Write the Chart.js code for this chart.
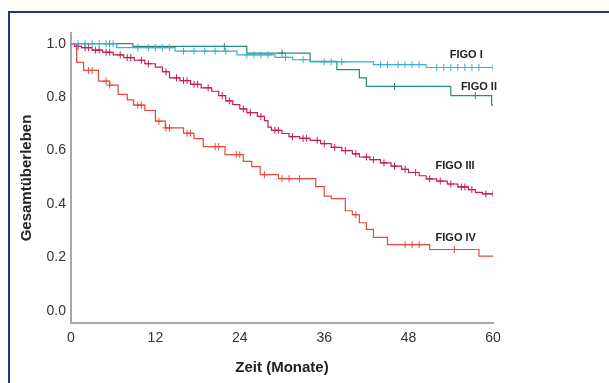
<!DOCTYPE html>
<html>
<head>
<meta charset="utf-8">
<script src="https://cdn.jsdelivr.net/npm/chart.js@4.4.0/dist/chart.umd.min.js"></script>
<style>
    html, body { margin: 0; padding: 0; background: #fff; }
    #wrap { position: relative; width: 609px; height: 383px; overflow: hidden; }
    #frame { position: absolute; left: 8px; top: 11px; width: 620px; height: 400px;
             border-top: 2px solid #24357a; border-left: 2px solid #24357a; }
</style>
</head>
<body>
<div id="wrap">
    <canvas id="kmChart" width="609" height="383"></canvas>
    <div id="frame"></div>
</div>
<script>
// Kaplan-Meier steps per stage: time of each step (months) and survival after it
const figo1Times = [0, 6.5, 14.8, 23.6, 29, 31.5, 34, 43, 50.5];
const figo1Surv = [1.0, 0.985, 0.972, 0.958, 0.949, 0.94, 0.932, 0.922, 0.911];
const figo1Censor = [1, 2, 3, 4, 5, 6, 9.5, 11, 12, 13, 14, 16, 17.5, 19, 20.5, 22, 25, 26, 27, 28,
    30.5, 33, 36, 37, 38.5, 44, 45, 46.5, 47.5, 48.5, 49.5, 52, 53, 54, 55, 56, 57, 58, 60];

const figo2Times = [0, 8.8, 25, 34, 37.8, 41, 42, 54, 59.8];
const figo2Surv = [1.0, 0.99, 0.965, 0.934, 0.903, 0.872, 0.84, 0.806, 0.77];
const figo2Censor = [5.5, 21.8, 30, 46, 57.5];

const figo3Times = [0, 0.5, 1.5, 3, 4.5, 6, 7.5, 9, 10.5, 12, 13, 14, 15.5, 17, 18.5, 20, 21, 22, 23, 24,
    25, 26.5, 27.5, 28, 28.5, 30, 31, 32.5, 34, 35.5, 37, 38.5, 40, 41, 42.5, 44, 45.5, 47, 48, 49.5,
    50.5, 52, 53.5, 55, 56.5, 57.5, 58.5];
const figo3Surv = [1.0, 0.99, 0.985, 0.976, 0.968, 0.958, 0.948, 0.938, 0.925, 0.912, 0.895, 0.872, 0.862,
    0.848, 0.835, 0.822, 0.806, 0.786, 0.772, 0.756, 0.742, 0.728, 0.712, 0.688, 0.676, 0.664, 0.652,
    0.646, 0.638, 0.626, 0.612, 0.6, 0.588, 0.576, 0.566, 0.554, 0.542, 0.53, 0.518, 0.506, 0.494,
    0.486, 0.475, 0.464, 0.454, 0.444, 0.438];
const figo3Censor = [1, 2, 2.5, 3.5, 4, 5, 5.5, 7, 8, 8.5, 10, 11, 13.5, 15, 16, 16.5, 17.5, 18, 19.5,
    21.5, 22.5, 24.5, 25.5, 27, 29, 29.5, 31.5, 33, 33.5, 35, 36, 37.5, 39, 40.5, 42, 43, 44.5, 46,
    47.5, 49, 51, 52.5, 54, 55.5, 56, 57, 59, 60];

const figo4Times = [0, 0.8, 1.8, 3.9, 5.5, 6.7, 8, 8.9, 10.5, 12, 13.4, 16, 17.5, 18.8, 21.9, 24.5, 25.7,
    26.9, 29.5, 34.8, 36, 37, 39, 40, 41, 42, 43, 45, 51, 58];
const figo4Surv = [1.0, 0.93, 0.9, 0.86, 0.845, 0.81, 0.79, 0.77, 0.75, 0.71, 0.685, 0.665, 0.645, 0.615,
    0.585, 0.56, 0.54, 0.51, 0.495, 0.465, 0.43, 0.42, 0.375, 0.36, 0.33, 0.305, 0.275, 0.248, 0.23, 0.205];
const figo4Censor = [2.5, 3, 5, 5.5, 9.5, 10, 12.5, 13.5, 14, 16.5, 17, 20.5, 21, 23.5, 24, 27.5, 30, 31,
    32.5, 40.5, 47.5, 48.5, 49.5, 54.5];

const endMonth = 60;
const xTicks = [0, 12, 24, 36, 48, 60];
const yTicks = [0, 0.2, 0.4, 0.6, 0.8, 1.0];

const stageNames = ['FIGO I', 'FIGO II', 'FIGO III', 'FIGO IV'];
const stageColors = ['#3aaed8', '#2b8a7c', '#c81a50', '#e8473f'];
// where each stage name sits (month, survival)
const nameMonths = [56.2, 58.0, 54.6, 54.7];
const nameSurv = [0.958, 0.839, 0.543, 0.272];

const stages = [
    [figo1Times, figo1Surv, figo1Censor],
    [figo2Times, figo2Surv, figo2Censor],
    [figo3Times, figo3Surv, figo3Censor],
    [figo4Times, figo4Surv, figo4Censor]
];

function survivalAt(times, surv, t) {
    let s = surv[0];
    for (let i = 0; i < times.length; i++) {
        if (times[i] <= t) s = surv[i];
    }
    return s;
}

const datasets = [];
stages.forEach(([times, surv, censor], i) => {
    const pts = times.map((t, k) => ({ x: t, y: surv[k] }));
    pts.push({ x: endMonth, y: surv[surv.length - 1] });
    datasets.push({
        label: stageNames[i],
        data: pts,
        stepped: 'before',   // horizontal first, then drop at the event time
        borderColor: stageColors[i],
        borderWidth: 1.2,
        pointRadius: 0,
        fill: false
    });
    datasets.push({
        label: stageNames[i] + ' zensiert',
        data: censor.map(t => ({ x: t, y: survivalAt(times, surv, t) })),
        showLine: false,
        pointStyle: 'cross',
        pointRadius: 3.5,
        borderColor: stageColors[i],
        borderWidth: 1,
        pointHoverRadius: 0
    });
});

const stageNamePlugin = {
    id: 'stageNames',
    afterDatasetsDraw(chart) {
        const { ctx, scales: { x, y } } = chart;
        ctx.save();
        ctx.font = 'bold 11px "Liberation Sans", Arial, sans-serif';
        ctx.fillStyle = '#222';
        ctx.textAlign = 'center';
        ctx.textBaseline = 'middle';
        stageNames.forEach((name, i) => {
            ctx.fillText(name, x.getPixelForValue(nameMonths[i]), y.getPixelForValue(nameSurv[i]));
        });
        ctx.restore();
    }
};

const ctx = document.getElementById('kmChart').getContext('2d');
new Chart(ctx, {
    type: 'line',
    data: { datasets: datasets },
    options: {
        responsive: false,
        animation: false,
        devicePixelRatio: 1,
        layout: { padding: { left: 0, right: 116, top: 33, bottom: 0 } },
        plugins: { legend: { display: false }, tooltip: { enabled: false } },
        scales: {
            x: {
                type: 'linear',
                min: 0,
                max: 60,
                afterBuildTicks: s => { s.ticks = xTicks.map(v => ({ value: v })); },
                afterFit: s => { s.height = 60; },
                grid: { display: false, drawTicks: false },
                border: { color: '#a8a8a8', width: 2 },
                ticks: { color: '#333', padding: 7, font: { size: 14, family: '"Liberation Sans", Arial, sans-serif' } },
                title: {
                    display: true,
                    text: 'Zeit (Monate)',
                    color: '#222',
                    padding: { top: 0, bottom: 6 },
                    font: { size: 15, weight: 'bold', family: '"Liberation Sans", Arial, sans-serif' }
                }
            },
            y: {
                type: 'linear',
                min: -0.045,
                max: 1.04,
                afterBuildTicks: s => { s.ticks = yTicks.map(v => ({ value: v })); },
                afterFit: s => { s.width = 71; },
                grid: { display: false, drawTicks: false },
                border: { color: '#a8a8a8', width: 2 },
                ticks: {
                    color: '#333',
                    padding: 5,
                    font: { size: 14, family: '"Liberation Sans", Arial, sans-serif' },
                    callback: v => v.toFixed(1)
                },
                title: {
                    display: true,
                    text: 'Gesamtüberleben',
                    color: '#222',
                    padding: { top: 18, bottom: 0 },
                    font: { size: 15, weight: 'bold', family: '"Liberation Sans", Arial, sans-serif' }
                }
            }
        }
    },
    plugins: [stageNamePlugin]
});
</script>
</body>
</html>
